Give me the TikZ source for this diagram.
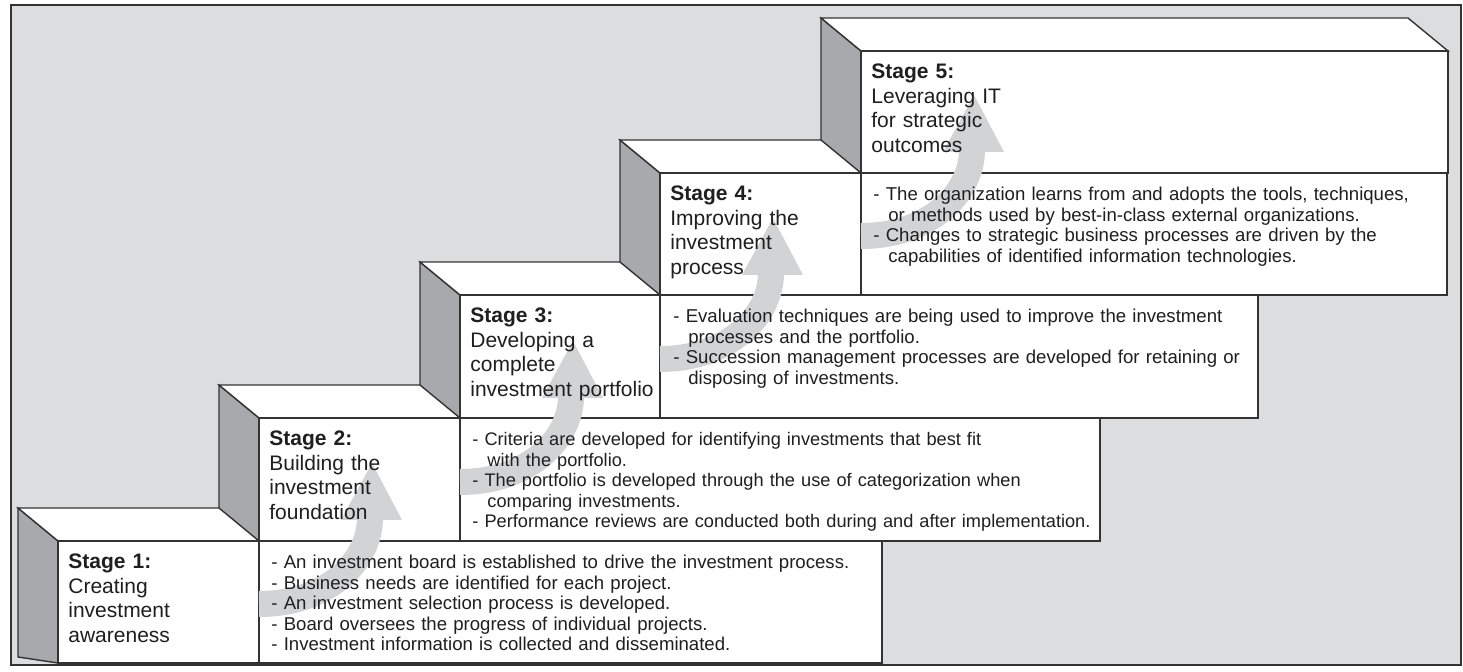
\documentclass[tikz,border=0pt]{standalone}
\usepackage{fontspec}
\setmainfont{Liberation Sans}
\definecolor{bggrey}{HTML}{DCDDDF}
\definecolor{sidegrey}{HTML}{A8A9AC}
\definecolor{arrowgrey}{HTML}{D2D3D5}
\definecolor{linegrey}{HTML}{333333}
\tikzset{
  frameline/.style={draw=linegrey, line width=0.8pt, fill=bggrey},
  sideface/.style={draw=linegrey, line width=0.7pt, fill=sidegrey, line join=miter},
  whiteface/.style={draw=linegrey, line width=0.7pt, fill=white, line join=miter},
  divline/.style={draw=linegrey, line width=0.7pt},
  arrowshaft/.style={draw=arrowgrey, line width=13pt, line cap=butt},
  arrowhead/.style={fill=arrowgrey},
  lab/.style={anchor=base west, inner sep=0pt, text width=110pt, align=left,
              font=\fontsize{10.5pt}{12.35pt}\selectfont, text=black!88},
  desc/.style={anchor=base west, inner sep=0pt, text width=340pt, align=left,
              font=\fontsize{9.3pt}{10.25pt}\selectfont, text=black!88},
  descnarrow/.style={desc, font=\fontsize{9.1pt}{10.25pt}\selectfont}
}
\newcommand{\stagebox}[5]{%
  \path[sideface] (#1-40,#2-33) -- (#1,#2) -- (#1,#4) -- (#1-40,#5) -- cycle;
  \path[whiteface] (#1-40,#2-33) -- (#3-40,#2-33) -- (#3,#2) -- (#1,#2) -- cycle;
  \path[whiteface] (#1,#2) rectangle (#3,#4);
}
\newcommand{\stagearrow}[2]{%
  \path[arrowshaft] (#1,#2) .. controls (#1+70,#2) and (#1+111,#2-44) .. (#1+111,#2-86);
  \path[arrowhead] (#1+82,#2-84) -- (#1+143,#2-84) -- (#1+113,#2-141) -- cycle;
}
\newcommand{\ind}{\hspace*{7.5pt}}
\begin{document}
\begin{tikzpicture}[x=0.5pt,y=-0.5pt]
\useasboundingbox (0,0) rectangle (1463,672);
\fill[white] (0,0) rectangle (1463,672);
\path[frameline] (11,5) rectangle (1461,665);
% boxes
\stagebox{58}{541}{882}{663}{657}
\draw[divline] (259,541) -- (259,663);
\stagebox{259}{418}{1100}{541}{508}
\draw[divline] (460,418) -- (460,541);
\stagebox{460}{295}{1258}{418}{385}
\draw[divline] (660,295) -- (660,418);
\stagebox{660}{173}{1447}{295}{262}
\draw[divline] (861,173) -- (861,295);
\stagebox{861}{51}{1448}{173}{140}
% arrows
\stagearrow{259}{604}
\stagearrow{460}{482}
\stagearrow{660}{359}
\stagearrow{861}{236}
% labels
\node[lab] (l1) at (68,568.5) {\textbf{Stage 1:}\\Creating\\investment\\awareness};
\node[lab] (l2) at (269,445.5) {\textbf{Stage 2:}\\Building the\\investment\\foundation};
\node[lab] (l3) at (470,322.5) {\textbf{Stage 3:}\\Developing a\\complete\\investment portfolio};
\node[lab] (l4) at (670,200.5) {\textbf{Stage 4:}\\Improving the\\investment\\process};
\node[lab] (l5) at (871,78.5) {\textbf{Stage 5:}\\Leveraging IT\\for strategic\\outcomes};
% descriptions
\node[desc] (d1) at (271,569) {- An investment board is established to drive the investment process.\\- Business needs are identified for each project.\\- An investment selection process is developed.\\- Board oversees the progress of individual projects.\\- Investment information is collected and disseminated.};
\node[descnarrow] (d2) at (472,446) {- Criteria are developed for identifying investments that best fit\\\ind with the portfolio.\\- The portfolio is developed through the use of categorization when\\\ind comparing investments.\\- Performance reviews are conducted both during and after implementation.};
\node[desc] (d3) at (673,323) {- Evaluation techniques are being used to improve the investment\\\ind processes and the portfolio.\\- Succession management processes are developed for retaining or\\\ind disposing of investments.};
\node[desc] (d4) at (873,201) {- The organization learns from and adopts the tools, techniques,\\\ind or methods used by best-in-class external organizations.\\- Changes to strategic business processes are driven by the\\\ind capabilities of identified information technologies.};
\end{tikzpicture}
\end{document}
